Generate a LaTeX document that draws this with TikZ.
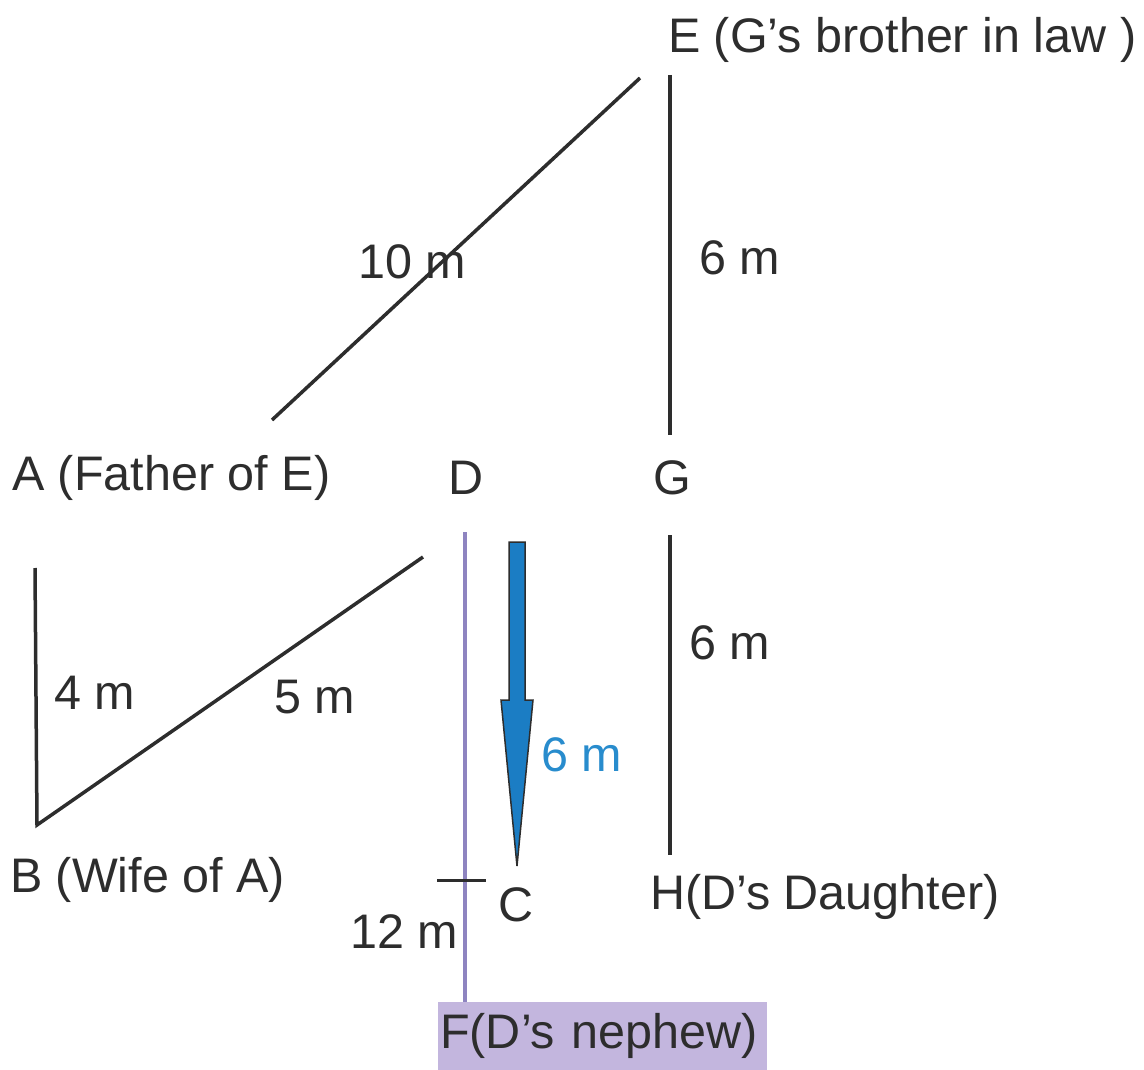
\documentclass[tikz,border=0pt]{standalone}
\usepackage{fontspec}
\setmainfont{Liberation Sans}
\definecolor{fbox}{RGB}{195,182,222}
\definecolor{purpleline}{RGB}{142,132,192}
\definecolor{arrowblue}{RGB}{27,125,196}
\definecolor{textblue}{RGB}{40,140,205}
\definecolor{ink}{RGB}{45,45,45}
\begin{document}
\begin{tikzpicture}[x=1pt,y=-1pt,
  lbl/.style={font=\fontsize{48.5}{58}\selectfont, inner sep=0pt, text=ink},
  ln/.style={line width=3.5pt, draw=ink}]
\useasboundingbox (0,0) rectangle (1144,1070);
% labels of persons
\node[lbl,anchor=west] (E) at (668,40) {E (G's brother in law )};
\node[lbl,anchor=west] (A) at (12,478) {A (Father of E)};
\node[lbl] (D) at (466,478) {D};
\node[lbl] (G) at (672,478) {G};
\node[lbl,anchor=west] (B) at (10,880) {B (Wife of A)};
\node[lbl] (C) at (516,905) {C};
\node[lbl,anchor=west] (H) at (650,897) {H(D's Daughter)};
\node[lbl,fill=fbox,text width=325,inner xsep=2,align=left,minimum height=68,anchor=north west] (F) at (438,1002) {F(D's nephew)};
% coordinates of the strokes
\coordinate (a1) at (272,420);
\coordinate (e1) at (640,78);
\coordinate (e2) at (670,75);
\coordinate (g1) at (670,435);
\coordinate (g2) at (670,535);
\coordinate (h1) at (670,855);
\coordinate (b0) at (35,568);
\coordinate (b1) at (37,825);
\coordinate (d1) at (423,557);
\coordinate (d2) at (465,532);
\coordinate (f1) at (465,1002);
\coordinate (t1) at (437,880);
\coordinate (t2) at (486,880);
% strokes
\draw[ln] (a1) -- (e1);
\draw[ln] (e2) -- (g1);
\draw[ln] (g2) -- (h1);
\draw[ln,line join=miter] (b0) -- (b1) -- (d1);
\draw[line width=4pt,draw=purpleline] (d2) -- (f1);
\draw[ln,line width=3pt] (t1) -- (t2);
% blue arrow
\draw[fill=arrowblue,draw=ink,line width=1.5pt,line join=miter]
  (509,542) -- (525,542) -- (525,700) -- (533,700) -- (517,866) -- (501,700) -- (509,700) -- cycle;
% distance labels
\node[lbl] (l10) at (412,262) {10 m};
\node[lbl] (l6a) at (740,258) {6 m};
\node[lbl] (l4) at (95,693) {4 m};
\node[lbl] (l5) at (315,697) {5 m};
\node[lbl] (l6b) at (730,643) {6 m};
\node[lbl,text=textblue] (l6c) at (582,755) {6 m};
\node[lbl] (l12) at (404,932) {12 m};
\end{tikzpicture}
\end{document}
